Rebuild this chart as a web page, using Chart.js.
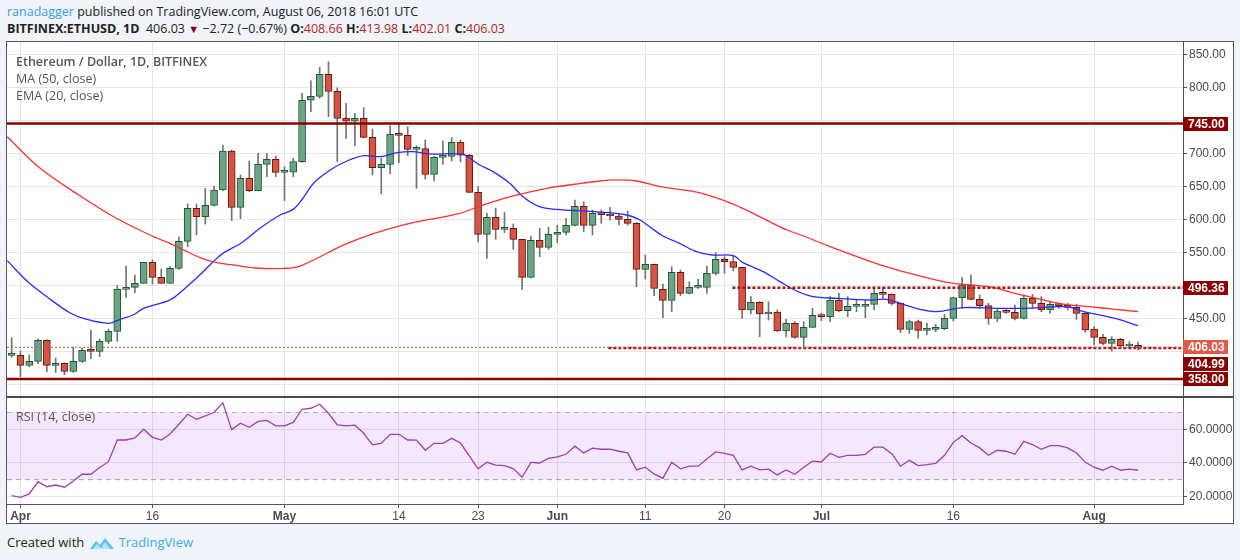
<!DOCTYPE html>
<html lang="en">
<head>
<meta charset="UTF-8">
<title>Ethereum / Dollar, 1D, BITFINEX</title>
<script src="https://cdn.jsdelivr.net/npm/chart.js@4.4.1/dist/chart.umd.min.js"></script>
<style>
  body { margin:0; width:1240px; height:560px; background:#f0f3f7; position:relative; overflow:hidden;
         font-family:'Open Sans', 'Noto Sans', sans-serif; }
  .hdr { position:absolute; left:7px; font-size:12.5px; color:#222; white-space:nowrap; }
  #hdr1 { top:3px; }
  #hdr2 { top:20px; }
  .user { color:#3b9fd6; }
  .rd { color:#b3261e; }
  .dn { color:#8b0000; font-size:11px; }
  #frame { position:absolute; left:6px; top:41px; width:1226px; height:481px; border:1px solid #555; background:#fff; }
  #pricePane { position:absolute; left:0; top:0; width:1226px; height:354px; }
  #sep { position:absolute; left:0; top:354px; width:1226px; height:2px; background:#4a4a4a; }
  #rsiPane { position:absolute; left:0; top:356px; width:1226px; height:125px; }
  .legend { position:absolute; left:9px; font-size:12.5px; color:#555; white-space:nowrap; }
  #footer { position:absolute; left:7px; top:533px; font-size:13px; color:#222; white-space:nowrap; }
  #footer .tv { color:#3bb0e0; }
  #footer svg { vertical-align:-4px; margin:0 0 0 5px; }
</style>
</head>
<body>
<div id="hdr1" class="hdr"><span class="user">ranadagger</span> published on TradingView.com, August 06, 2018 16:01 UTC</div>
<div id="hdr2" class="hdr"><b>BITFINEX:ETHUSD, 1D</b>&nbsp; 406.03 <span class="dn">▼</span> −2.72 (−0.67%) <b>O:</b><span class="rd">408.66</span> <b>H:</b><span class="rd">413.98</span> <b>L:</b><span class="rd">402.01</span> <b>C:</b><span class="rd">406.03</span></div>

<div id="frame">
  <div id="pricePane"><canvas id="priceChart"></canvas></div>
  <div id="sep"></div>
  <div id="rsiPane"><canvas id="rsiChart"></canvas></div>
  <div class="legend" style="top:11px; font-weight:600;">Ethereum / Dollar, 1D, BITFINEX</div>
  <div class="legend" style="top:28px;">MA (50, close)</div>
  <div class="legend" style="top:45px;">EMA (20, close)</div>
  <div class="legend" style="top:366px;">RSI (14, close)</div>
</div>

<div id="footer">Created with<svg width="26" height="16" viewBox="0 0 26 16"><path d="M1 14 L7 6 L11 10 L16 3 L25 14 Z" fill="#5cc1ec"/><path d="M4 14 L8 9 L12 13 L16 7 L21 14 Z" fill="#b9e4f7"/></svg><span class="tv"> TradingView</span></div>

<script>
// daily candles, day 0 = Mar 31 2018, day 128 = Aug 6 2018
const opens = [393.9, 393.9, 378.7, 384.8, 416.6, 378.7, 381.8, 369.6, 384.8, 401.5,
  400, 415.1, 430.3, 493.9, 496.9, 503, 534.8, 512.1, 503, 525.7,
  566.6, 616.6, 604, 621.2, 644.4, 703.5, 618.1, 662, 643.4, 683.3,
  690.8, 671.2, 671.5, 687.3, 780.3, 786.3, 819.7, 793.9, 753, 748.5,
  753, 724.2, 678.2, 683.3, 728.7, 727.2, 706, 707, 668.1, 693.9,
  695.4, 716.6, 697, 640.9, 577.2, 603, 584.8, 586.3, 569.6, 512.1,
  568.1, 557.5, 577.2, 580.3, 590.9, 619.7, 590.9, 609, 607, 605,
  600, 593.9, 524.2, 531.8, 493.9, 477.2, 519.7, 487.8, 496.9, 496.9,
  518.1, 539.3, 535.8, 527.2, 462.6, 474.2, 456.5, 459.5, 430.8, 442.4,
  421.2, 436.3, 454.5, 452.5, 477.7, 461.6, 468.1, 468.1, 471.2, 487.8,
  486.3, 472.7, 433.3, 444.9, 431.8, 433.3, 434.3, 450, 481.3, 500.5,
  478.7, 469.1, 450, 461.1, 459, 450, 480.3, 472.7, 462.6, 471.2,
  469.1, 466.6, 457.5, 433.8, 421.2, 412.1, 418.1, 408.1, 408.66];
const highs = [420.6, 400.5, 394.4, 418.6, 417.5, 389.9, 382.5, 406.5, 405, 432.3,
  418.6, 433.8, 500, 529.2, 515.6, 535, 538.3, 524.7, 528.2, 573.2,
  623.2, 623, 646.9, 650.5, 712.6, 705, 667.1, 688.3, 700, 700,
  695.9, 679.7, 692.4, 790.9, 809.6, 830.3, 838.8, 799.4, 775.7, 760.5,
  769.1, 736.8, 692.4, 741.9, 743.9, 740.3, 711.5, 720.1, 694.9, 718.6,
  723.7, 720, 698.4, 649.4, 609, 616.6, 610.5, 592.9, 570, 574.7,
  586.3, 587.8, 590.9, 601.5, 629.3, 626.7, 614, 614, 618.1, 609,
  612.6, 595, 545.9, 532, 502, 528.2, 523.2, 505.5, 509, 529.2,
  549.4, 543.4, 544.4, 527.5, 482.8, 475.2, 475, 462.6, 448.4, 444.9,
  444.9, 465.1, 457.5, 482.8, 487.8, 482.8, 477.7, 477.7, 494.4, 496.4,
  487, 473, 447.4, 447.4, 442.4, 440.9, 456, 482, 512.1, 515.6,
  485.3, 472.7, 465.1, 465, 470.2, 485.3, 486.3, 482.8, 475.2, 472.7,
  472.7, 471.2, 458, 437.3, 425.7, 422.2, 419.7, 414.6, 413.98];
const lows = [391, 361.6, 376.7, 381.3, 369.2, 367.7, 364.6, 368, 383, 388.9,
  391.9, 411.6, 415.1, 481.8, 488.8, 503, 501.5, 503, 503, 524,
  558.5, 576.2, 592.9, 620, 643, 597.9, 601, 642, 643, 664.6,
  664.6, 628.2, 664.6, 686, 763, 783.3, 755.5, 687.3, 722.7, 711.5,
  723, 667.1, 638.9, 669.1, 685.8, 696.4, 646.9, 661, 658, 683.3,
  688.3, 687, 640, 566.1, 540.9, 569.6, 579.8, 554.5, 493.9, 511,
  543.4, 554.5, 564.6, 576.2, 590, 581.3, 576.2, 593.9, 599, 591.4,
  591.4, 497.9, 509.6, 484.3, 450.9, 460, 484.3, 487, 495.4, 487.8,
  515.6, 518.1, 522.2, 450, 456.5, 422.2, 447.4, 430, 422.2, 420,
  407, 436, 446.4, 444.9, 460, 452.5, 460, 451, 462.6, 480.3,
  470.2, 428.2, 427.2, 419.7, 424.7, 429.7, 433, 445.9, 465.1, 478,
  465.1, 440.9, 444.9, 457.5, 447.4, 449, 465.1, 460, 457.5, 465.1,
  462.6, 448.4, 428.7, 409.6, 409.6, 400.5, 404.5, 405.5, 402.01];
const closes = [394.2, 378.7, 384.8, 416.6, 378.7, 381.8, 369.6, 384.8, 401.5, 400,
  415.1, 430.3, 493.9, 496.9, 503, 534.8, 512.1, 503, 525.7, 566.6,
  616.6, 604, 621.2, 644.4, 703.5, 618.1, 662, 643.4, 683.3, 690.8,
  671.2, 671.5, 687.3, 780.3, 786.3, 819.7, 793.9, 753, 748.5, 753,
  724.2, 678.2, 683.3, 728.7, 727.2, 706, 707, 668.1, 693.9, 695.4,
  716.6, 697, 640.9, 577.2, 603, 584.8, 586.3, 569.6, 512.1, 568.1,
  557.5, 577.2, 580.3, 590.9, 619.7, 590.9, 609, 607, 605, 600,
  593.9, 524.2, 531.8, 495.4, 477.2, 519.7, 487.8, 496.9, 497.3, 518.1,
  539.3, 535.8, 527.2, 462.6, 474.2, 456.5, 459.5, 430.8, 442.4, 421.2,
  436.3, 454.5, 452.5, 477.7, 461.6, 468.1, 468.5, 471.2, 487.8, 486.3,
  472.7, 433.3, 444.9, 431.8, 433.3, 434.3, 450, 481.3, 500.5, 478.7,
  469.1, 450, 461.1, 459, 450, 480.3, 472.7, 462.6, 471.2, 469.1,
  466.6, 457.5, 432.3, 421.2, 412.1, 418.1, 408.1, 408.66, 406.03];

const rsi = [20.5, 19.5, 21.5, 28.8, 25.8, 26.8, 25.5, 29.2, 33.2, 33.2,
  37.2, 40.7, 53.6, 53.6, 54.8, 60, 55.2, 53.6, 57.2, 63,
  68.9, 65.9, 67.9, 70.1, 75.7, 59.8, 63.6, 61.2, 64.7, 65.3,
  62, 62, 64.1, 71.9, 72.5, 74.9, 69.5, 62.6, 62, 62.4,
  57.6, 50.7, 51.7, 57, 57, 53.6, 53.5, 47.5, 51.6, 51.6,
  54.6, 51.8, 44.1, 36.4, 40.3, 38.6, 38.4, 36.6, 31.4, 40.3,
  39.9, 42.7, 43.5, 45.1, 49.9, 45.9, 48.7, 48.1, 48.1, 46.9,
  45.9, 35.8, 37.4, 33.4, 30.8, 40.3, 36.4, 38, 38, 42.3,
  46.5, 45.7, 44.5, 35.8, 38, 35.8, 36.2, 32.8, 35.8, 33.2,
  37.4, 41, 40.5, 45.7, 43.3, 44.5, 44.5, 45.1, 49.3, 49.3,
  45.5, 38, 41.5, 38.4, 38.9, 39.7, 44.5, 52.2, 56.2, 51.8,
  48.9, 44.5, 47.5, 46.9, 45.1, 52.8, 50.9, 48.1, 50.3, 50.3,
  48.9, 45.9, 40.3, 37.4, 35.6, 38, 35.6, 36.2, 35.6];

// moving averages (day, price)
const emaDays = [-0.5, 1.9, 4, 6.6, 8.5, 11, 12.3, 13.8, 15, 18, 19.9, 21.4, 22.9, 24, 26.3, 28.2,
  30.5, 32, 33, 34.3, 36.2, 38.1, 40, 41.9, 43.8, 45.6, 47.5, 51.3, 52.5, 53.2, 54.7, 56.6,
  58.1, 60, 61.9, 66.1, 69.9, 71.4, 72.5, 74, 75.9, 77.8, 79.7, 82, 83.1, 85.4, 87.3, 89.2,
  91.1, 93.8, 97.5, 99.4, 101.3, 103.2, 105.1, 108.1, 112.3, 115, 119.1, 120.3, 121.8, 123.3, 125.6, 128];
const emaVals = [537.3, 504.5, 482.7, 458.5, 448.5, 442.4, 448.5, 455, 465.2, 478, 497.9, 516, 535.8, 548.4, 566.1, 586.3,
  606.5, 615, 630, 654.5, 674.7, 688.3, 696.4, 694.9, 700.9, 702.5, 699, 698.4, 688.3, 682.2, 672.2, 654.5,
  634.3, 619.1, 615.1, 611.6, 606.5, 598.9, 588.8, 574.7, 563.6, 551, 545.9, 544.9, 534.3, 520.7, 505.5, 491.4,
  482.8, 480.3, 477.7, 478.7, 471.2, 463.6, 460, 466.1, 465.1, 465.1, 467.6, 466.6, 460, 456, 449, 438.8];
const maDays = [-0.5, 3.2, 7.8, 11.9, 15.7, 18.4, 21.4, 23.3, 25.2, 27.8, 30.9, 32.8, 38.4, 44.1,
  50.9, 53.2, 57, 60.8, 64.2, 66.9, 68.8, 71, 73.7, 78.2, 82.2, 85, 88.1, 90, 93, 98.7,
  101.3, 105.1, 107, 108.9, 111.5, 114, 116.8, 119.7, 122.5, 125.4, 128];
const maVals = [725, 677.6, 635.3, 601.5, 576.2, 561, 542, 534.3, 530.8, 526.2, 525.7, 529.2, 565, 590,
  609, 620, 635.3, 646.9, 653.5, 658, 659.6, 658, 649.4, 640, 622, 604, 583.8, 574.7, 558.5, 530.8,
  520.7, 508, 503, 500.5, 496.9, 487.8, 479.2, 471.2, 467.6, 463.6, 460];

// drawn levels: value and the day each line starts
const levelValues = [745, 496.36, 406.03, 404.99, 358];
const levelFrom = [-0.53, 81.9, -0.53, 67.8, -0.53];

const tickDays = [1, 16, 31, 44, 53, 62, 72, 81, 92, 107, 123];
const tickLabels = ['Apr', '16', 'May', '14', '23', 'Jun', '11', '20', 'Jul', '16', 'Aug'];
const priceTicks = [350, 400, 450, 500, 550, 600, 650, 700, 750, 800, 850];
const rsiTicks = [20, 40, 60];

const xMin = -0.53, xMax = 133.1;
const gridColor = '#e6e6e6';
const axisFont = "'Liberation Sans', Arial, sans-serif";

Chart.defaults.font.family = axisFont;
Chart.defaults.font.size = 12;
Chart.defaults.color = '#4a4a4a';
Chart.defaults.animation = false;
Chart.defaults.plugins.legend.display = false;
Chart.defaults.plugins.tooltip.enabled = false;

const days = closes.map((c, i) => i);
const up = days.map(i => closes[i] >= opens[i]);

// keep the plot area flush with the pane edges
const noPadY = w => ax => { ax.width = w; ax.paddingTop = 0; ax.paddingBottom = 0; };
const noPadX = h => ax => { ax.height = h; ax.paddingLeft = 0; ax.paddingRight = 0; };

// price labels that sit under a level tag are not shown
const priceLabel = v => levelValues.some(l => Math.abs(l - v) < 12) ? '' : v.toFixed(2);

// tag boxes for the level values on the price axis
const tagStyle = [
  { bg: '#8b0000', shift: 0 },
  { bg: '#8b0000', shift: 0 },
  { bg: '#e05a47', shift: 0 },
  { bg: '#8b0000', shift: 16 },
  { bg: '#8b0000', shift: 0 }
];
const levelTags = {
  id: 'levelTags',
  afterDraw(chart) {
    const ctx = chart.ctx, y = chart.scales.y, right = chart.chartArea.right;
    ctx.save();
    ctx.font = 'bold 12px ' + axisFont;
    ctx.textBaseline = 'middle';
    levelValues.forEach((v, k) => {
      const py = Math.round(y.getPixelForValue(v)) + tagStyle[k].shift;
      ctx.fillStyle = tagStyle[k].bg;
      ctx.fillRect(right, py - 7, 45, 14);
      ctx.fillStyle = '#fff';
      ctx.fillText(v.toFixed(2), right + 5, py + 0.5);
    });
    ctx.restore();
  }
};

const levelStyle = [
  { color: '#8b0000', width: 2.5, dash: [] },
  { color: '#a01818', width: 2.5, dash: [3, 2] },
  { color: '#d9534f', width: 1, dash: [2, 2] },
  { color: '#a01818', width: 2.5, dash: [3, 2] },
  { color: '#8b0000', width: 2.5, dash: [] }
];

const levelSets = levelValues.map((v, k) => ({
  type: 'line',
  data: [{ x: levelFrom[k], y: v }, { x: xMax, y: v }],
  borderColor: levelStyle[k].color,
  borderWidth: levelStyle[k].width,
  borderDash: levelStyle[k].dash,
  pointRadius: 0,
  order: 0
}));

new Chart(document.getElementById('priceChart'), {
  data: {
    datasets: [
      {
        type: 'bar',
        data: days.map(i => ({ x: i, y: [lows[i], highs[i]] })),
        backgroundColor: '#737373',
        barThickness: 1,
        grouped: false,
        order: 4
      },
      {
        type: 'bar',
        data: days.map(i => ({ x: i, y: [opens[i], closes[i]] })),
        backgroundColor: days.map(i => up[i] ? '#6ba583' : '#d75442'),
        borderColor: days.map(i => up[i] ? '#225437' : '#5b1a13'),
        borderWidth: 1,
        borderSkipped: false,
        barThickness: 7,
        minBarLength: 2,
        grouped: false,
        order: 3
      },
      {
        type: 'line',
        data: maDays.map((d, k) => ({ x: d, y: maVals[k] })),
        borderColor: '#ff3030',
        borderWidth: 1.3,
        pointRadius: 0,
        tension: 0.35,
        order: 1
      },
      {
        type: 'line',
        data: emaDays.map((d, k) => ({ x: d, y: emaVals[k] })),
        borderColor: '#2a2aff',
        borderWidth: 1.3,
        pointRadius: 0,
        tension: 0.35,
        order: 1
      },
      ...levelSets
    ]
  },
  options: {
    responsive: true,
    maintainAspectRatio: false,
    layout: { padding: 0 },
    scales: {
      x: {
        type: 'linear', min: xMin, max: xMax, offset: false,
        afterBuildTicks: ax => { ax.ticks = tickDays.map(v => ({ value: v })); },
        afterFit: noPadX(0),
        ticks: { display: false },
        grid: { color: gridColor, drawTicks: false, offset: false },
        border: { display: false }
      },
      y: {
        position: 'right', min: 332.3, max: 868.6,
        afterBuildTicks: ax => { ax.ticks = priceTicks.map(v => ({ value: v })); },
        afterFit: noPadY(50),
        ticks: { callback: priceLabel, padding: 2 },
        grid: { color: gridColor, tickColor: '#555', tickLength: 4 },
        border: { color: '#555' }
      }
    }
  },
  plugins: [levelTags]
});

new Chart(document.getElementById('rsiChart'), {
  data: {
    datasets: [
      {
        type: 'line',
        data: [{ x: xMin, y: 70 }, { x: xMax, y: 70 }],
        borderColor: '#aaaaaa', borderWidth: 1, borderDash: [5, 4],
        backgroundColor: 'rgba(150, 50, 240, 0.11)',
        fill: { value: 30 },
        pointRadius: 0, order: 3
      },
      {
        type: 'line',
        data: [{ x: xMin, y: 30 }, { x: xMax, y: 30 }],
        borderColor: '#aaaaaa', borderWidth: 1, borderDash: [5, 4],
        pointRadius: 0, order: 3
      },
      {
        type: 'line',
        data: days.map(i => ({ x: i, y: rsi[i] })),
        borderColor: '#a23cb8',
        borderWidth: 1.3,
        pointRadius: 0,
        order: 1
      }
    ]
  },
  options: {
    responsive: true,
    maintainAspectRatio: false,
    layout: { padding: 0 },
    scales: {
      x: {
        type: 'linear', min: xMin, max: xMax, offset: false,
        afterBuildTicks: ax => { ax.ticks = tickDays.map(v => ({ value: v })); },
        afterFit: noPadX(19),
        ticks: {
          autoSkip: false, maxRotation: 0, padding: 1,
          callback: v => tickLabels[tickDays.indexOf(v)],
          font: c => ({ weight: /^[A-Z]/.test(tickLabels[c.index] || '') ? 'bold' : 'normal' })
        },
        grid: { color: gridColor, tickColor: '#555', tickLength: 4 },
        border: { color: '#555' }
      },
      y: {
        position: 'right', min: 15.5, max: 78.6,
        afterBuildTicks: ax => { ax.ticks = rsiTicks.map(v => ({ value: v })); },
        afterFit: noPadY(50),
        ticks: { callback: v => v.toFixed(4), padding: 2 },
        grid: { color: gridColor, tickColor: '#555', tickLength: 4 },
        border: { color: '#555' }
      }
    }
  }
});
</script>
</body>
</html>
